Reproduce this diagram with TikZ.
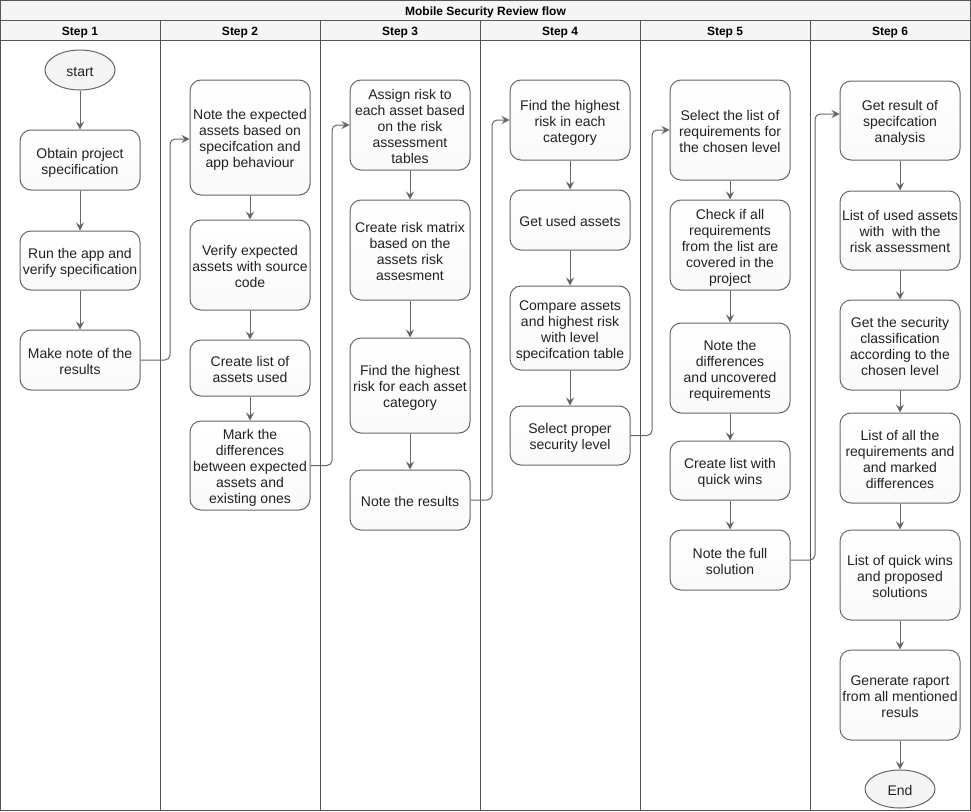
\documentclass[tikz,border=0pt]{standalone}
\usepackage{fontspec}
\setmainfont{Liberation Sans}
\usetikzlibrary{arrows.meta,calc,shapes.geometric}
\definecolor{boxline}{HTML}{666666}
\definecolor{txt}{HTML}{222222}
\definecolor{pool}{HTML}{555555}
\definecolor{hdr}{HTML}{F5F5F5}
\tikzset{
  stepbox/.style={draw=boxline, line width=1pt, rounded corners=11pt,
    top color=white, bottom color=hdr!85!gray!20, text=txt,
    minimum width=120pt, inner sep=0pt,
    font=\fontsize{14}{16}\selectfont},
  term/.style={draw=boxline, line width=1pt, ellipse, fill=hdr, text=txt,
    minimum width=70pt, minimum height=40pt, inner sep=0pt,
    font=\fontsize{14}{16}\selectfont},
  arr/.style={draw=boxline, line width=1pt, rounded corners=5pt,
    -{Stealth[length=8pt,width=8pt,inset=3pt]}},
  hdrtext/.style={font=\bfseries\fontsize{12}{14}\selectfont, text=black, inner sep=0pt, anchor=base},
  poolline/.style={draw=pool, line width=1pt}
}
\newcommand{\lowtext}[1]{\raisebox{-3pt}[\height][\depth]{\begin{tabular}{@{}c@{}}#1\end{tabular}}}
\newcommand{\bx}[5]{\node[stepbox, minimum height=#4pt] (#1) at (#2,#3) {\lowtext{#5}};}
\begin{document}
\begin{tikzpicture}[x=1pt,y=-1pt]
\useasboundingbox (0,0) rectangle (971,811);
% pool
\fill[white] (0.5,0.5) rectangle (970.5,810.5);
\fill[hdr] (0.5,0.5) rectangle (970.5,40);
\draw[poolline] (0.5,0.5) rectangle (970.5,810.5);
\draw[poolline] (0.5,20) -- (970.5,20);
\draw[poolline] (0.5,40) -- (970.5,40);
\foreach \x in {160,320,480,640,810} \draw[poolline] (\x,20) -- (\x,810.5);
\node[hdrtext] (title) at (485.5,15) {Mobile Security Review flow};
\node[hdrtext] (h1) at (80,35) {Step 1};
\node[hdrtext] (h2) at (240,35) {Step 2};
\node[hdrtext] (h3) at (400,35) {Step 3};
\node[hdrtext] (h4) at (560,35) {Step 4};
\node[hdrtext] (h5) at (725,35) {Step 5};
\node[hdrtext] (h6) at (890,35) {Step 6};
% lane 1
\node[term] (start) at (80,70) {\lowtext{start}};
\bx{n11}{80}{160}{60}{Obtain project\\specification}
\bx{n12}{80}{260.5}{59}{Run the app and\\verify specification}
\bx{n13}{80}{360}{60}{Make note of the\\results}
% lane 2
\bx{n21}{250}{137.5}{115}{Note the expected\\assets based on\\specifcation and\\app behaviour}
\bx{n22}{250}{265}{90}{Verify expected\\assets with source\\code}
\bx{n23}{250}{368}{56}{Create list of\\assets used}
\bx{n24}{250}{465.5}{89}{Mark the\\differences\\between expected\\assets and\\existing ones}
% lane 3
\bx{n31}{410}{125}{90}{Assign risk to\\each asset based\\on the risk\\assessment\\tables}
\bx{n32}{410}{250}{100}{Create risk matrix\\based on the\\assets risk\\assesment}
\bx{n33}{410}{385.5}{95}{Find the highest\\risk for each asset\\category}
\bx{n34}{410}{500}{60}{Note the results}
% lane 4
\bx{n41}{570}{120}{80}{Find the highest\\risk in each\\category}
\bx{n42}{570}{220}{60}{Get used assets}
\bx{n43}{570}{328}{84}{Compare assets\\and highest risk\\with level\\specifcation table}
\bx{n44}{570}{435.5}{59}{Select proper\\security level}
% lane 5
\bx{n51}{730}{130}{100}{Select the list of\\requirements for\\the chosen level}
\bx{n52}{730}{245}{90}{Check if all\\requirements\\from the list are\\covered in the\\project}
\bx{n53}{730}{368}{90}{Note the\\differences\\and uncovered\\requirements}
\bx{n54}{730}{470.5}{59}{Create list with\\quick wins}
\bx{n55}{730}{560}{60}{Note the full\\solution}
% lane 6
\bx{n61}{900}{120.5}{79}{Get result of\\specifcation\\analysis}
\bx{n62}{900}{230.5}{79}{List of used assets\\with\ \ with the\\risk assessment}
\bx{n63}{900}{345}{90}{Get the security\\classification\\according to the\\chosen level}
\bx{n64}{900}{458}{90}{List of all the\\requirements and\\and marked\\differences}
\bx{n65}{900}{575}{90}{List of quick wins\\and proposed\\solutions}
\bx{n66}{900}{695}{90}{Generate raport\\from all mentioned\\resuls}
\node[term, minimum height=38pt] (end) at (900,789) {\lowtext{End}};
% vertical arrows
\draw[arr] (start) -- (n11);
\draw[arr] (n11) -- (n12);
\draw[arr] (n12) -- (n13);
\draw[arr] (n21) -- (n22);
\draw[arr] (n22) -- (n23);
\draw[arr] (n23) -- (n24);
\draw[arr] (n31) -- (n32);
\draw[arr] (n32) -- (n33);
\draw[arr] (n33) -- (n34);
\draw[arr] (n41) -- (n42);
\draw[arr] (n42) -- (n43);
\draw[arr] (n43) -- (n44);
\draw[arr] (n51) -- (n52);
\draw[arr] (n52) -- (n53);
\draw[arr] (n53) -- (n54);
\draw[arr] (n54) -- (n55);
\draw[arr] (n61) -- (n62);
\draw[arr] (n62) -- (n63);
\draw[arr] (n63) -- (n64);
\draw[arr] (n64) -- (n65);
\draw[arr] (n65) -- (n66);
\draw[arr] (n66) -- (end);
% cross-lane arrows
\coordinate (b1) at (170,139);
\coordinate (b2) at (332,125);
\coordinate (b3) at (492,120);
\coordinate (b4) at (652,130);
\coordinate (b5) at (815,114);
\draw[arr] (n13.east) -| (b1) -- (b1 -| n21.west);
\draw[arr] (n24.east) -| (b2) -- (b2 -| n31.west);
\draw[arr] (n34.east) -| (b3) -- (b3 -| n41.west);
\draw[arr] (n44.east) -| (b4) -- (b4 -| n51.west);
\draw[arr] (n55.east) -| (b5) -- (b5 -| n61.west);
\end{tikzpicture}
\end{document}
